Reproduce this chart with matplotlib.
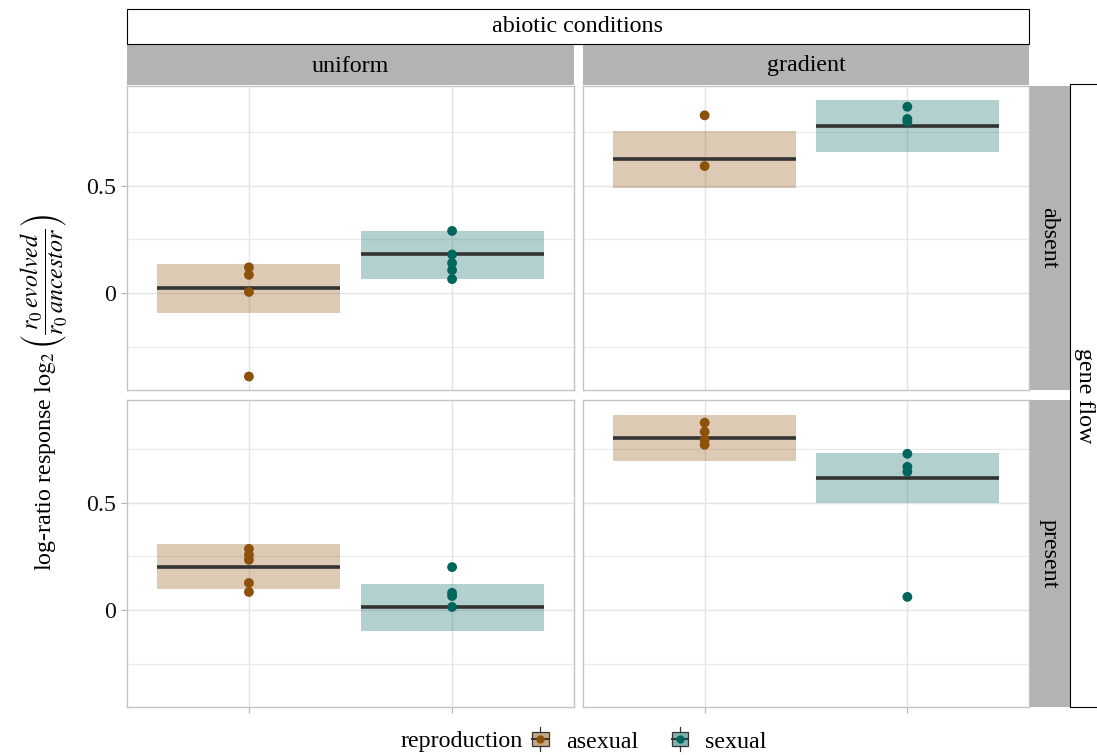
import matplotlib
matplotlib.use("Agg")
import matplotlib.pyplot as plt
from matplotlib.patches import Rectangle
from matplotlib.lines import Line2D
from matplotlib.legend_handler import HandlerBase

plt.rcParams['font.family'] = ['Liberation Serif', 'DejaVu Serif']
plt.rcParams['mathtext.fontset'] = 'stix'

# ---------------- data ----------------
abiotic = ["uniform", "gradient"]
geneflow = ["absent", "present"]
reproduction = ["asexual", "sexual"]

pts_absent_uniform_asexual = [0.12, 0.085, 0.005, -0.39]
pts_absent_uniform_sexual = [0.29, 0.18, 0.14, 0.107, 0.065]
pts_absent_gradient_asexual = [0.83, 0.593]
pts_absent_gradient_sexual = [0.87, 0.813, 0.80]
pts_present_uniform_asexual = [0.285, 0.257, 0.234, 0.126, 0.084]
pts_present_uniform_sexual = [0.20, 0.08, 0.065, 0.014]
pts_present_gradient_asexual = [0.874, 0.832, 0.794, 0.771]
pts_present_gradient_sexual = [0.729, 0.668, 0.645, 0.061]

# estimates: (mean, lower, upper)
est_absent_uniform_asexual = (0.023, -0.093, 0.135)
est_absent_uniform_sexual = (0.18, 0.065, 0.29)
est_absent_gradient_asexual = (0.626, 0.49, 0.757)
est_absent_gradient_sexual = (0.78, 0.66, 0.90)
est_present_uniform_asexual = (0.20, 0.098, 0.308)
est_present_uniform_sexual = (0.014, -0.098, 0.12)
est_present_gradient_asexual = (0.804, 0.696, 0.911)
est_present_gradient_sexual = (0.617, 0.50, 0.734)

points = {
    ("absent", "uniform"): [pts_absent_uniform_asexual, pts_absent_uniform_sexual],
    ("absent", "gradient"): [pts_absent_gradient_asexual, pts_absent_gradient_sexual],
    ("present", "uniform"): [pts_present_uniform_asexual, pts_present_uniform_sexual],
    ("present", "gradient"): [pts_present_gradient_asexual, pts_present_gradient_sexual],
}
estimates = {
    ("absent", "uniform"): [est_absent_uniform_asexual, est_absent_uniform_sexual],
    ("absent", "gradient"): [est_absent_gradient_asexual, est_absent_gradient_sexual],
    ("present", "uniform"): [est_present_uniform_asexual, est_present_uniform_sexual],
    ("present", "gradient"): [est_present_gradient_asexual, est_present_gradient_sexual],
}

yticks = [0, 0.5]
ytick_labels = ["0", "0.5"]
minor_y = [-0.25, 0.25, 0.75]

colors = {"asexual": "#8C510A", "sexual": "#01665E"}
fill_alpha = 0.3
FS = 17.3

# ---------------- layout ----------------
W, H = 1097, 755
fig = plt.figure(figsize=(W / 100, H / 100), dpi=100)

def fx(px):
    return px / W

def fy(py):
    return 1 - py / H

col_x = [(127, 574), (583, 1029)]
row_y = [(86, 390), (400, 707)]
ylims = [(-0.453, 0.967), (-0.453, 0.98)]

for ri, gf in enumerate(geneflow):
    for ci, ab in enumerate(abiotic):
        x0, x1 = col_x[ci]
        y0, y1 = row_y[ri]
        ax = fig.add_axes([fx(x0), fy(y1), fx(x1 - x0), (y1 - y0) / H])
        ax.set_xlim(0.4, 2.6)
        ax.set_ylim(*ylims[ri])
        for y in minor_y:
            ax.axhline(y, color="#EBEBEB", lw=0.9, zorder=0)
        for y in yticks:
            ax.axhline(y, color="#E4E4E4", lw=1.0, zorder=0)
        for x in [1, 2]:
            ax.axvline(x, color="#E4E4E4", lw=1.0, zorder=0)
        for k, rep in enumerate(reproduction):
            xc = k + 1
            m, lo, hi = estimates[(gf, ab)][k]
            ax.add_patch(Rectangle((xc - 0.45, lo), 0.9, hi - lo,
                                   facecolor=colors[rep], alpha=fill_alpha,
                                   edgecolor="none", zorder=1))
            ax.plot([xc - 0.45, xc + 0.45], [m, m], color="#333333",
                    lw=2.6, solid_capstyle="butt", zorder=2)
            vals = points[(gf, ab)][k]
            ax.scatter([xc] * len(vals), vals, s=50, color=colors[rep],
                       edgecolors="none", zorder=3)
        ax.set_xticks([1, 2])
        ax.set_xticklabels([])
        ax.set_yticks(yticks)
        if ci == 0:
            ax.set_yticklabels(ytick_labels, fontsize=FS)
        else:
            ax.set_yticklabels([])
        ax.tick_params(axis="both", color="#B3B3B3", length=4, width=0.8,
                       labelcolor="#111111", pad=4)
        if ci == 1:
            ax.tick_params(axis="y", length=0)
        if ri == 0:
            ax.tick_params(axis="x", length=0)
        for s in ax.spines.values():
            s.set_color("#C4C4C4")
            s.set_linewidth(1.0)

# column strips
for ci, ab in enumerate(abiotic):
    x0, x1 = col_x[ci]
    fig.patches.append(Rectangle((fx(x0), fy(85)), fx(x1 - x0), (85 - 45) / H,
                                 transform=fig.transFigure, facecolor="#B3B3B3",
                                 edgecolor="none"))
    fig.text(fx((x0 + x1) / 2), fy(66), ab, ha="center", va="center", fontsize=FS)

# top super strip
fig.patches.append(Rectangle((fx(127), fy(44)), fx(1029 - 127), (44 - 9) / H,
                             transform=fig.transFigure, facecolor="white",
                             edgecolor="black", lw=0.8))
fig.text(fx(578), fy(27), "abiotic conditions", ha="center", va="center", fontsize=FS)

# row strips
for ri, gf in enumerate(geneflow):
    y0, y1 = row_y[ri]
    fig.patches.append(Rectangle((fx(1030), fy(y1)), fx(40), (y1 - y0) / H,
                                 transform=fig.transFigure, facecolor="#B3B3B3",
                                 edgecolor="none"))
    fig.text(fx(1049), fy((y0 + y1) / 2), gf, ha="center", va="center",
             fontsize=FS, rotation=-90)

# right super strip
fig.patches.append(Rectangle((fx(1070), fy(707)), fx(40), (707 - 84) / H,
                             transform=fig.transFigure, facecolor="white",
                             edgecolor="black", lw=0.8))
fig.text(fx(1085), fy(396), "gene flow", ha="center", va="center",
         fontsize=FS, rotation=-90)

# y label
fig.text(fx(45), fy(392),
         r"log-ratio response $\log_2\left(\dfrac{r_0\,evolved}{r_0\,ancestor}\right)$",
         ha="center", va="center", rotation=90, fontsize=FS)


# legend
class HandlerCrossbar(HandlerBase):
    def create_artists(self, legend, orig_handle, xdescent, ydescent, width,
                       height, fontsize, trans):
        col = orig_handle.get_color()
        cx = width / 2 - xdescent
        cy = height / 2 - ydescent
        bw, bh = width, height
        r_fill = Rectangle((cx - bw / 2, cy - bh / 2), bw, bh, facecolor=col,
                           alpha=0.5, edgecolor="none", transform=trans)
        r_edge = Rectangle((cx - bw / 2, cy - bh / 2), bw, bh, facecolor="none",
                           edgecolor="#333333", lw=0.9, transform=trans)
        vl1 = Line2D([cx, cx], [cy + bh / 2, cy + bh / 2 + height * 0.35],
                     color="#333333", lw=0.9, transform=trans)
        vl2 = Line2D([cx, cx], [cy - bh / 2, cy - bh / 2 - height * 0.35],
                     color="#333333", lw=0.9, transform=trans)
        hl = Line2D([cx - bw / 2, cx + bw / 2], [cy, cy], color="#333333",
                    lw=1.4, transform=trans)
        pt = Line2D([cx], [cy], marker="o", markersize=6, color=col,
                    markeredgecolor="none", linestyle="none", transform=trans)
        return [r_fill, r_edge, vl1, vl2, hl, pt]


handles = [Line2D([], [], color=colors[r]) for r in reproduction]
fig.text(fx(523), fy(741), "reproduction", ha="right", va="center", fontsize=FS)
fig.legend(handles, reproduction, handler_map={Line2D: HandlerCrossbar()},
           loc="center left", bbox_to_anchor=(fx(532), fy(742)), ncol=2,
           frameon=False, fontsize=FS, handlelength=0.7, handleheight=0.55,
           handletextpad=0.7, columnspacing=1.4, borderpad=0, borderaxespad=0)

fig.savefig("out.png", dpi=100)
